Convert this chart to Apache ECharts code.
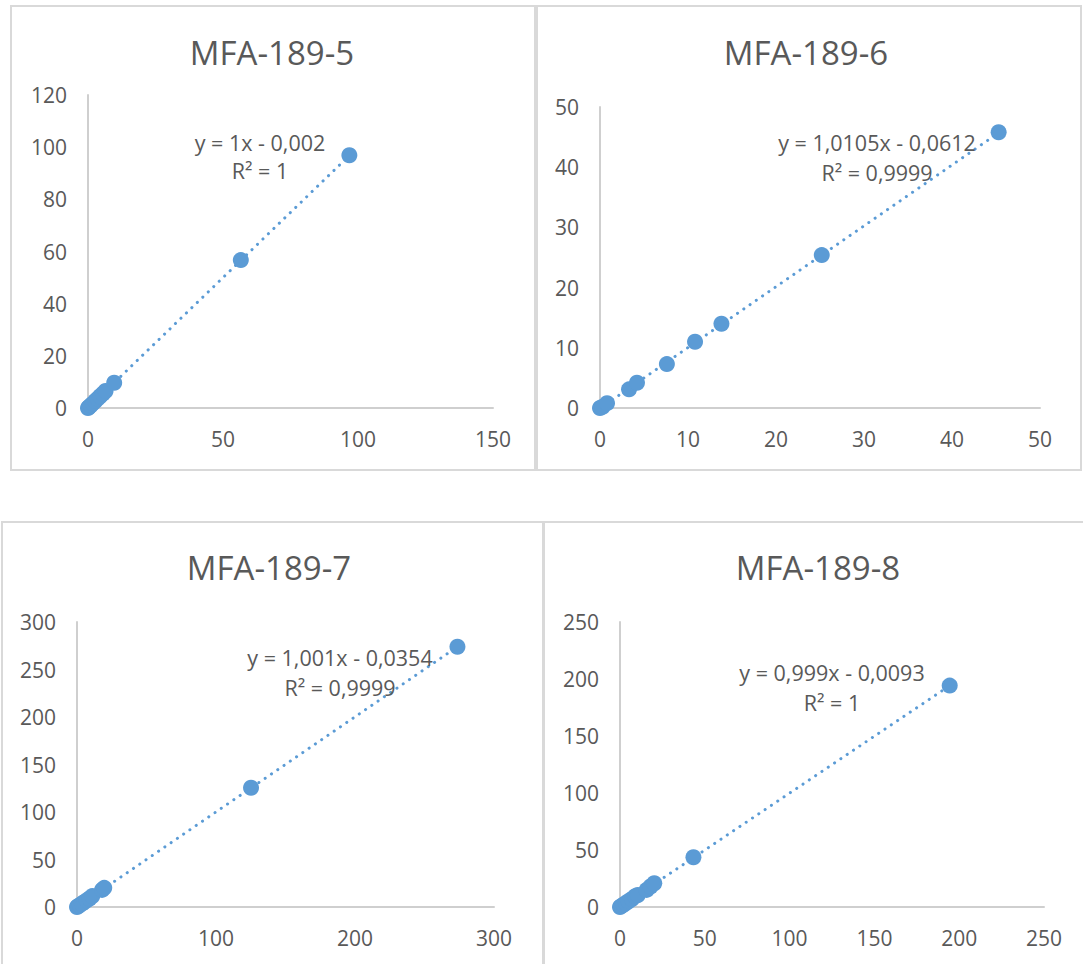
<!DOCTYPE html>
<html>
<head>
<meta charset="utf-8">
<script src="https://cdn.jsdelivr.net/npm/echarts@6/dist/echarts.min.js"></script>
<style>
  html, body { margin: 0; padding: 0; background: #ffffff; }
  #chart { width: 1083px; height: 964px; }
</style>
</head>
<body>
<div id="chart"></div>
<script>
// Sample names
const titles = ['MFA-189-5', 'MFA-189-6', 'MFA-189-7', 'MFA-189-8'];

// Measured (x) vs. reference (y) values for each sample
const x5 = [0, 0.4, 1, 1.8, 2.7, 3.6, 4.5, 5.5, 6.5, 9.7, 56.6, 96.8];
const y5 = [0, 0.4, 1, 1.8, 2.7, 3.6, 4.5, 5.5, 6.5, 9.7, 56.7, 96.9];

const x6 = [0, 0.3, 0.8, 3.3, 4.2, 7.6, 10.8, 13.8, 25.2, 45.3];
const y6 = [0, 0.2, 0.8, 3.1, 4.2, 7.3, 11.0, 14.0, 25.4, 45.8];

const x7 = [0, 1, 2, 3.5, 5, 7, 9, 11, 18, 19.6, 125.2, 273.7];
const y7 = [0, 1, 2, 3.5, 5, 7, 9, 11.5, 18, 20.2, 125.5, 273.9];

const x8 = [0, 1, 2, 3.5, 5, 7, 9, 10.5, 15.7, 18, 20.2, 43.3, 194.4];
const y8 = [0, 1, 2, 3.5, 5, 7, 9.5, 10.5, 15, 18, 20.8, 43.6, 194.2];

// Linear trendline coefficients and their printed labels
const slopes = [1, 1.0105, 1.001, 0.999];
const intercepts = [-0.002, -0.0612, -0.0354, -0.0093];
const equationLabels = ['y = 1x - 0,002', 'y = 1,0105x - 0,0612', 'y = 1,001x - 0,0354', 'y = 0,999x - 0,0093'];
const r2Labels = ['R² = 1', 'R² = 0,9999', 'R² = 0,9999', 'R² = 1'];

// Axis ranges and tick steps
const xMax = [150, 50, 300, 250];
const xStep = [50, 10, 100, 50];
const yMax = [120, 50, 300, 250];
const yStep = [20, 10, 50, 50];

const xs = [x5, x6, x7, x8];
const ys = [y5, y6, y7, y8];

// Panel layout (pixels)
const grids = [
  { left: 88, top: 95, width: 405, height: 313 },
  { left: 600, top: 107, width: 440, height: 301 },
  { left: 77, top: 622, width: 417, height: 285 },
  { left: 620, top: 622, width: 424, height: 285 }
];
const frames = [
  { x: 11, y: 6, width: 524, height: 464 },
  { x: 537, y: 6, width: 544, height: 464 },
  { x: 2, y: 522, width: 541, height: 470 },
  { x: 544, y: 522, width: 560, height: 470 }
];
const titlePos = [[272, 52], [806, 52], [269, 567], [818, 567]];
const labelPos = [[260, 142, 170], [877, 142, 172], [340, 657, 687], [832, 672, 702]];

const TEXT = '#595959';
const BLUE = '#5B9BD5';
const AXIS = '#cfcfcf';
const FONT = '"Open Sans", sans-serif';

const chart = echarts.init(document.getElementById('chart'), null, { renderer: 'svg' });

const xAxes = [], yAxes = [], series = [], titleOpts = [], graphics = [];

for (let i = 0; i < 4; i++) {
  const axisCommon = {
    type: 'value',
    min: 0,
    axisLine: { show: true, lineStyle: { color: AXIS, width: 2 } },
    axisTick: { show: false },
    splitLine: { show: false },
    axisLabel: { color: TEXT, fontSize: 21, fontFamily: FONT }
  };
  xAxes.push(Object.assign({}, axisCommon, {
    gridIndex: i, max: xMax[i], interval: xStep[i],
    axisLabel: Object.assign({}, axisCommon.axisLabel, { margin: 20 })
  }));
  yAxes.push(Object.assign({}, axisCommon, {
    gridIndex: i, max: yMax[i], interval: yStep[i],
    axisLabel: Object.assign({}, axisCommon.axisLabel, { margin: 21 })
  }));

  // trendline across the range of the data, from the printed equation
  const xmin = Math.min.apply(null, xs[i]);
  const xmaxData = Math.max.apply(null, xs[i]);
  series.push({
    type: 'line',
    xAxisIndex: i, yAxisIndex: i,
    data: [[xmin, slopes[i] * xmin + intercepts[i]], [xmaxData, slopes[i] * xmaxData + intercepts[i]]],
    symbol: 'none',
    lineStyle: { color: BLUE, width: 3, type: [0.1, 7.5], cap: 'round' },
    z: 1,
    silent: true
  });
  series.push({
    type: 'scatter',
    xAxisIndex: i, yAxisIndex: i,
    data: xs[i].map((v, k) => [v, ys[i][k]]),
    symbol: 'circle',
    symbolSize: 16,
    itemStyle: { color: BLUE, opacity: 1 },
    z: 2
  });

  titleOpts.push({
    text: titles[i],
    left: titlePos[i][0],
    top: titlePos[i][1],
    padding: 0,
    textAlign: 'center',
    textVerticalAlign: 'middle',
    textStyle: { color: TEXT, fontSize: 33, fontWeight: 'normal', fontFamily: FONT }
  });

  graphics.push({
    type: 'rect',
    shape: frames[i],
    style: { fill: 'none', stroke: '#d9d9d9', lineWidth: 2 },
    silent: true
  });
  graphics.push({
    type: 'text',
    x: labelPos[i][0], y: labelPos[i][1],
    style: { text: equationLabels[i], fill: TEXT, font: '21.5px ' + FONT, textAlign: 'center', textVerticalAlign: 'middle' },
    z: 10
  });
  graphics.push({
    type: 'text',
    x: labelPos[i][0], y: labelPos[i][2],
    style: { text: r2Labels[i], fill: TEXT, font: '21.5px ' + FONT, textAlign: 'center', textVerticalAlign: 'middle' },
    z: 10
  });
}

chart.setOption({
  animation: false,
  backgroundColor: '#ffffff',
  title: titleOpts,
  grid: grids,
  xAxis: xAxes,
  yAxis: yAxes,
  series: series,
  graphic: graphics
});
</script>
</body>
</html>
